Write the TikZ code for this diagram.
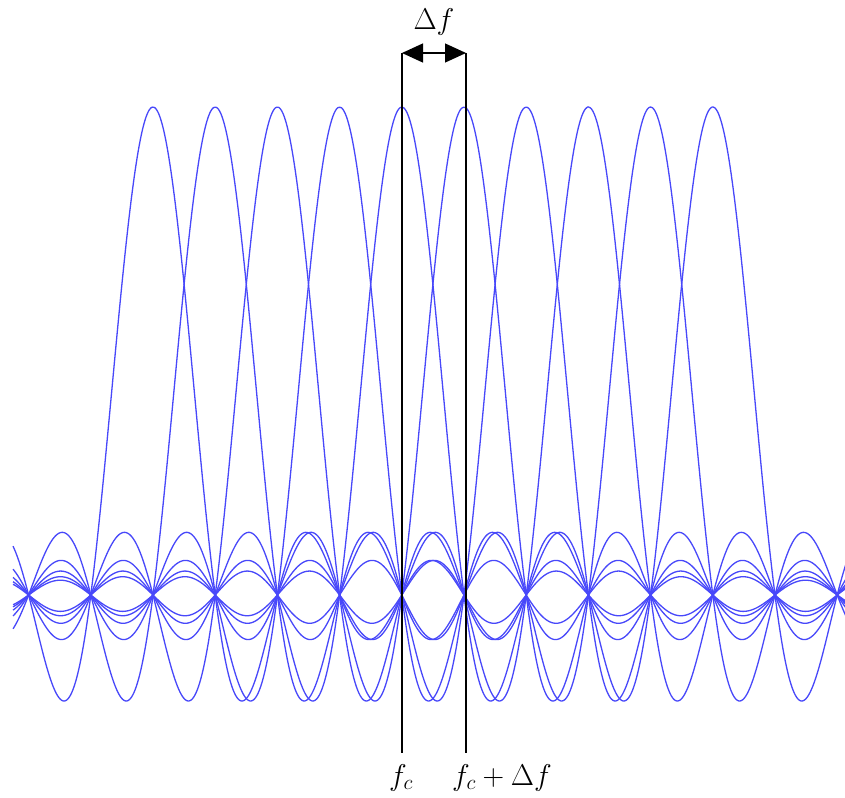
\RequirePackage{fix-cm}
\documentclass[tikz,border=0pt]{standalone}
\usetikzlibrary{arrows.meta}
\definecolor{carrierblue}{RGB}{72,72,250}
\tikzset{
  carrier/.style={draw=carrierblue, line width=1.3pt, line join=round},
  marker/.style={draw=black, line width=1.2pt},
  lbl/.style={inner sep=0pt, font=\fontsize{30}{36}\selectfont},
  declare function={sincf(\u)=sin(180*\u)/(3.14159265*\u);}
}
\begin{document}
\begin{tikzpicture}[x=1pt,y=1pt]
\useasboundingbox (0,0) rectangle (845,-797);
\fill[white] (0,0) rectangle (845,-797);
\begin{scope}
\clip (0,0) rectangle (845,-797);
\begin{scope}[shift={(153,-595)}, x=62.2pt, y=488pt]
\foreach \k in {0,...,9}{
  \draw[carrier] plot[variable=\i, domain=0:670, samples=671, smooth]
    ({-2.25+0.02*\i},{sincf(-2.25+0.02*\i-\k)});
}
\end{scope}
\end{scope}
% markers at f_c and f_c + Delta f
\coordinate (lt) at (402,-53);
\coordinate (lb) at (402,-753);
\coordinate (rt) at (466,-53);
\coordinate (rb) at (466,-753);
\draw[marker] (lt) -- (lb);
\draw[marker] (rt) -- (rb);
\draw[marker, {Triangle[length=21pt,width=19pt]}-{Triangle[length=21pt,width=19pt]}] (lt) -- (rt);
\node[lbl, anchor=base] (df) at (434,-30) {$\Delta f$};
\node[lbl, anchor=base] (fc) at (401,-785) {$f_c$};
\node[lbl, anchor=base west] (fcdf) at (452,-785) {$f_c + \Delta f$};
\end{tikzpicture}
\end{document}
